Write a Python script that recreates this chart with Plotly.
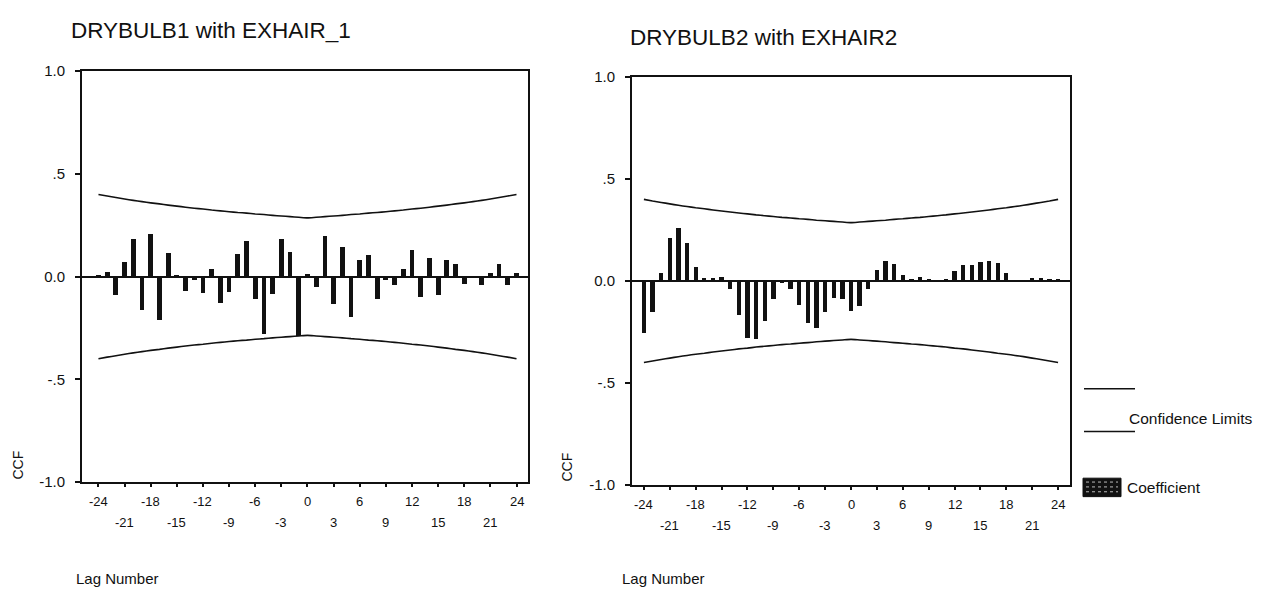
import plotly.graph_objects as go

W, H = 1272, 594

# Lags of the cross-correlation function
lags = list(range(-24, 25))

# CCF coefficients, DRYBULB1 with EXHAIR_1 (lags -24 .. 24)
ccf_drybulb1 = [0.006, 0.024, -0.091, 0.071, 0.180, -0.162, 0.205, -0.213, 0.114, 0.008,
                -0.071, -0.015, -0.079, 0.038, -0.131, -0.076, 0.109, 0.173, -0.110, -0.281,
                -0.084, 0.180, 0.121, -0.289, 0.010,
                -0.052, 0.197, -0.134, 0.142, -0.197, 0.082, 0.103, -0.110, -0.015, -0.044,
                0.035, 0.129, -0.098, 0.091, -0.091, 0.082, 0.063, -0.039, -0.003, -0.043,
                0.016, 0.060, -0.043, 0.019]

# CCF coefficients, DRYBULB2 with EXHAIR2 (lags -24 .. 24)
ccf_drybulb2 = [-0.254, -0.154, 0.040, 0.211, 0.262, 0.186, 0.071, 0.016, 0.016, 0.019,
                -0.040, -0.167, -0.278, -0.286, -0.198, -0.087, -0.010, -0.040, -0.117, -0.208,
                -0.230, -0.154, -0.083, -0.089, -0.146,
                -0.124, -0.040, 0.052, 0.100, 0.085, 0.030, 0.012, 0.020, 0.012, 0.004,
                0.006, 0.050, 0.080, 0.080, 0.095, 0.100, 0.090, 0.040, 0.002, 0.002,
                0.015, 0.015, 0.010, 0.006]

# Upper confidence limit per lag (lower limit is its mirror)
conf_upper = [0.400, 0.392, 0.385, 0.378, 0.371, 0.365, 0.359, 0.354, 0.348, 0.343,
              0.338, 0.333, 0.329, 0.324, 0.320, 0.316, 0.312, 0.309, 0.305, 0.302,
              0.298, 0.295, 0.292, 0.289, 0.286,
              0.289, 0.292, 0.295, 0.298, 0.302, 0.305, 0.309, 0.312, 0.316, 0.320,
              0.324, 0.329, 0.333, 0.338, 0.343, 0.348, 0.354, 0.359, 0.365, 0.371,
              0.378, 0.385, 0.392, 0.400]
conf_lower = [-v for v in conf_upper]

# Tick labels, staggered on two rows
row1_ticks = [-24, -18, -12, -6, 0, 6, 12, 18, 24]
row2_ticks = [-21, -15, -9, -3, 3, 9, 15, 21]
y_ticks = [1.0, 0.5, 0.0, -0.5, -1.0]
y_ticktext = ["1.0", ".5", "0.0", "-.5", "-1.0"]

titles = ["DRYBULB1 with EXHAIR_1", "DRYBULB2 with EXHAIR2"]

FONT = "Liberation Sans, Arial, sans-serif"
INK = "#111111"


def fx(px):
    return px / W


def fy(py):
    return 1 - py / H


panels = [
    dict(series=ccf_drybulb1, xd=(82, 528), yd=(487, 64), xr=(-25.89, 25.32),
         xa="x", ya="y", title_xy=(69, 22), ccf_x=18, ccf_y=470, lag_x=74, bw=0.55),
    dict(series=ccf_drybulb2, xd=(632, 1070), yd=(490, 70), xr=(-25.38, 25.38),
         xa="x2", ya="y2", title_xy=(628, 29), ccf_x=567, ccf_y=472, lag_x=620, bw=0.5),
]

fig = go.Figure()
annotations = []

for i, p in enumerate(panels):
    fig.add_trace(go.Bar(x=lags, y=p["series"], width=p["bw"],
                         marker=dict(color=INK, line=dict(width=0)),
                         xaxis=p["xa"], yaxis=p["ya"], showlegend=False))
    for lim in (conf_upper, conf_lower):
        fig.add_trace(go.Scatter(x=lags, y=lim, mode="lines",
                                 line=dict(color=INK, width=1.6, shape="spline", smoothing=0.6),
                                 xaxis=p["xa"], yaxis=p["ya"], showlegend=False,
                                 hoverinfo="skip"))

    axis_common = dict(showline=True, mirror=True, linecolor=INK, linewidth=2,
                       showgrid=False, ticks="outside", tickcolor=INK, tickwidth=2)
    xkey = "xaxis" if i == 0 else "xaxis2"
    ykey = "yaxis" if i == 0 else "yaxis2"
    fig.update_layout({
        xkey: dict(axis_common, domain=[fx(p["xd"][0]), fx(p["xd"][1])],
                   range=list(p["xr"]), anchor=p["ya"],
                   tickmode="array", tickvals=list(range(-24, 25, 3)),
                   ticklen=3, showticklabels=False, zeroline=False),
        ykey: dict(axis_common, domain=[fy(p["yd"][0]), fy(p["yd"][1])],
                   range=[-1, 1], anchor=p["xa"],
                   tickmode="array", tickvals=y_ticks, ticktext=y_ticktext,
                   ticklen=5, ticklabelstandoff=7,
                   tickfont=dict(family=FONT, size=15, color=INK),
                   zeroline=True, zerolinecolor=INK, zerolinewidth=1.6),
    })

    bottom = p["yd"][0]
    for t in row1_ticks:
        annotations.append(dict(x=t, y=fy(bottom + 20), xref=p["xa"], yref="paper",
                                text=str(t), showarrow=False, xanchor="center", yanchor="middle",
                                font=dict(family=FONT, size=13, color=INK)))
    for t in row2_ticks:
        annotations.append(dict(x=t, y=fy(bottom + 42), xref=p["xa"], yref="paper",
                                text=str(t), showarrow=False, xanchor="center", yanchor="middle",
                                font=dict(family=FONT, size=13, color=INK)))

    tx, ty = p["title_xy"]
    annotations.append(dict(x=fx(tx), y=fy(ty), xref="paper", yref="paper",
                            text=titles[i], showarrow=False, xanchor="left", yanchor="middle",
                            font=dict(family=FONT, size=22.5, color=INK)))
    annotations.append(dict(x=fx(p["ccf_x"]), y=fy(p["ccf_y"]), xref="paper", yref="paper",
                            text="CCF", textangle=-90, showarrow=False,
                            xanchor="center", yanchor="middle",
                            font=dict(family=FONT, size=14, color=INK)))
    annotations.append(dict(x=fx(p["lag_x"]), y=fy(586), xref="paper", yref="paper",
                            text="Lag Number", showarrow=False, xanchor="left", yanchor="middle",
                            font=dict(family=FONT, size=15, color=INK)))

# Legend: confidence limits and coefficient swatch
shapes = [
    dict(type="line", xref="paper", yref="paper", x0=fx(1084), x1=fx(1135),
         y0=fy(391), y1=fy(391), line=dict(color=INK, width=1.6)),
    dict(type="line", xref="paper", yref="paper", x0=fx(1084), x1=fx(1135),
         y0=fy(435), y1=fy(435), line=dict(color=INK, width=1.6)),
    dict(type="rect", xref="paper", yref="paper", x0=fx(1083), x1=fx(1121),
         y0=fy(502), y1=fy(483), fillcolor=INK, line=dict(color=INK, width=1)),
]
for yy in (487, 492, 497):
    shapes.append(dict(type="line", xref="paper", yref="paper", x0=fx(1086), x1=fx(1118),
                       y0=fy(yy), y1=fy(yy), line=dict(color="#bbbbbb", width=1, dash="dot")))

annotations.append(dict(x=fx(1127), y=fy(422), xref="paper", yref="paper",
                        text="Confidence Limits", showarrow=False, xanchor="left",
                        yanchor="middle", font=dict(family=FONT, size=15.5, color=INK)))
annotations.append(dict(x=fx(1125), y=fy(493), xref="paper", yref="paper",
                        text="Coefficient", showarrow=False, xanchor="left",
                        yanchor="middle", font=dict(family=FONT, size=15.5, color=INK)))

fig.update_layout(width=W, height=H, margin=dict(l=0, r=0, t=0, b=0),
                  paper_bgcolor="white", plot_bgcolor="white",
                  bargap=0, showlegend=False,
                  annotations=annotations, shapes=shapes,
                  font=dict(family=FONT, color=INK))

fig.write_html("out.html")
